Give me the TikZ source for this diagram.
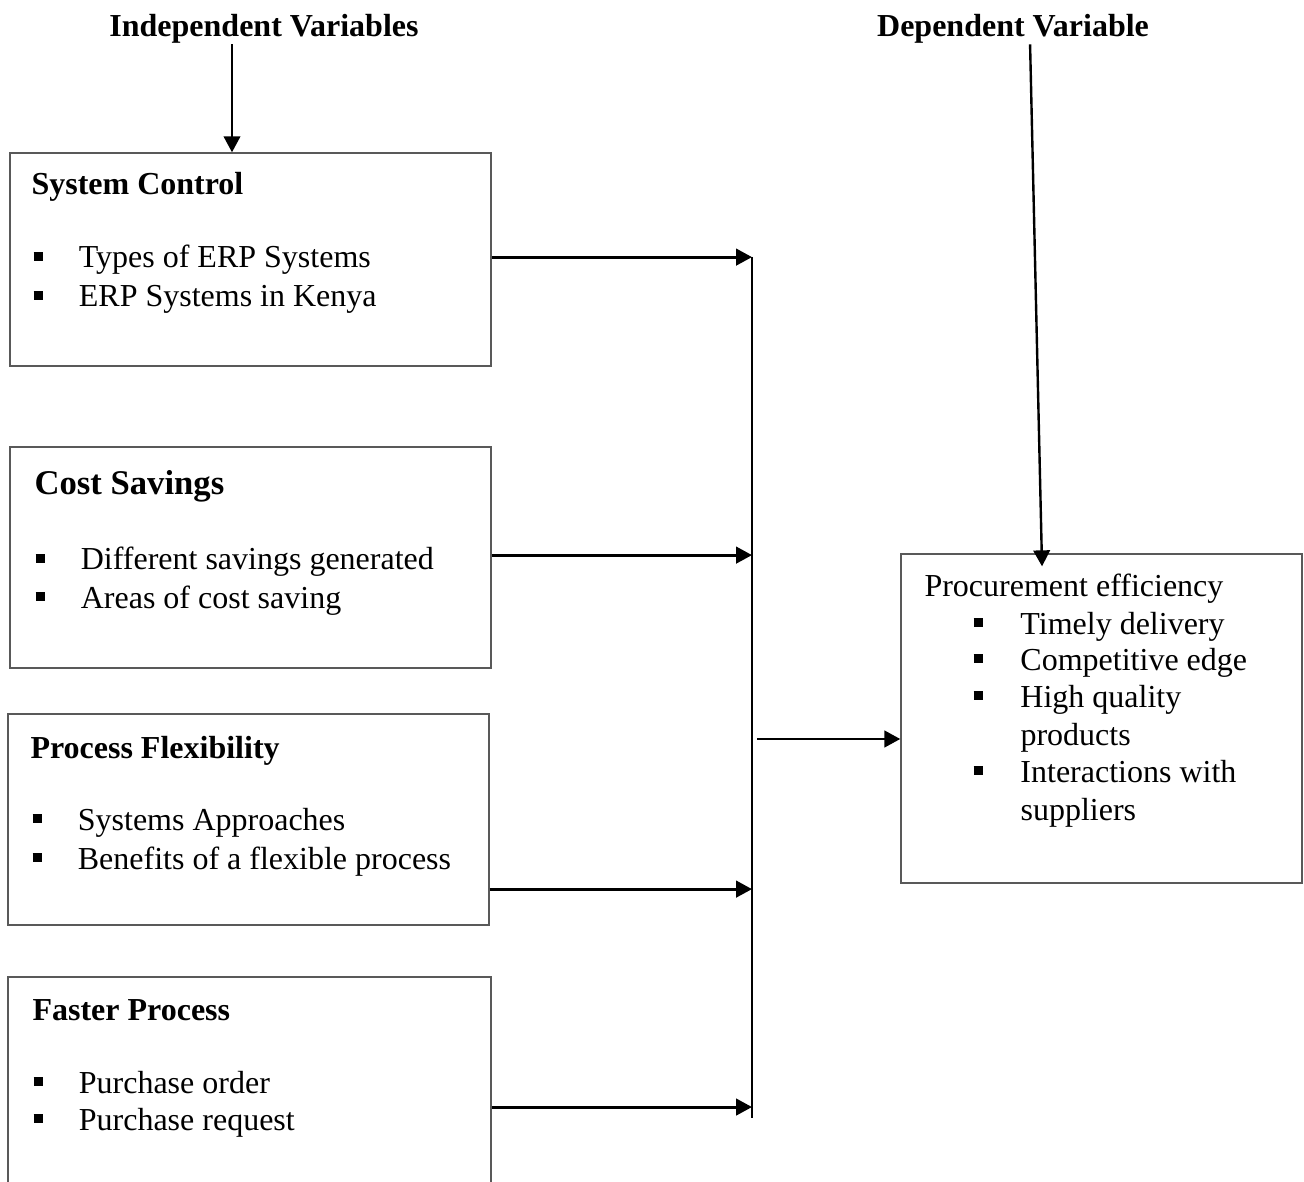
\documentclass[tikz,border=0pt]{standalone}
\usepackage{fontspec}
\setmainfont{Liberation Serif}
\usetikzlibrary{arrows.meta,positioning,calc}
\newcommand{\sqbullet}{\rule[2.6pt]{3.7pt}{3.5pt}}
\newcommand{\blt}[2][17pt]{\makebox[#1][l]{\sqbullet}#2}
\tikzset{
  varbox/.style={draw=black!65, line width=0.5pt, inner sep=0pt},
  vhead/.style={font=\bfseries\fontsize{12}{14}\selectfont, inner sep=0pt, anchor=base, yshift=-0.75pt},
  vtitle/.style={font=\bfseries\fontsize{12}{14}\selectfont, inner sep=0pt, anchor=base west, yshift=-0.75pt},
  vtext/.style={font=\fontsize{12}{14}\selectfont, inner sep=0pt, anchor=base west, yshift=-0.75pt},
  harrow/.style={-{Triangle[length=6pt,width=6.2pt]}, line width=1.1pt},
  varrow/.style={-{Triangle[length=6pt,width=6.2pt]}, line width=0.9pt},
  busline/.style={line width=0.8pt},
}
\begin{document}
\begin{tikzpicture}[x=0.375pt,y=-0.375pt]
\useasboundingbox (0,0) rectangle (1304,1182);
% headings
\node[vhead] (indep) at (264,35) {Independent Variables};
\node[vhead] (dep) at (1013,35) {Dependent Variable};
% independent variable boxes
\node[varbox, minimum width=180.4pt, minimum height=79.9pt] (sysc) at (250.5,259.5) {};
\node[varbox, minimum width=180.4pt, minimum height=82.9pt] (cost) at (250.5,557.5) {};
\node[varbox, minimum width=180.4pt, minimum height=79.1pt] (flex) at (248.5,819.5) {};
\node[varbox, minimum width=181.1pt, minimum height=79.1pt] (fast) at (249.5,1082.5) {};
% dependent variable box
\node[varbox, minimum width=150.4pt, minimum height=123.4pt] (proc) at (1101.5,718.5) {};
% box texts
\node[vtitle] (sysct) at (31,193) {System Control};
\node[vtext] (sysc1) at (33,266) {\blt{Types of ERP Systems}};
\node[vtext] (sysc2) at (33,305) {\blt{ERP Systems in Kenya}};
\node[vtitle, font=\bfseries\fontsize{13}{15}\selectfont] (costt) at (34,493) {Cost Savings};
\node[vtext] (cost1) at (35,568) {\blt{Different savings generated}};
\node[vtext] (cost2) at (35,606) {\blt{Areas of cost saving}};
\node[vtitle] (flext) at (30,756) {Process Flexibility};
\node[vtext] (flex1) at (32,828) {\blt{Systems Approaches}};
\node[vtext] (flex2) at (32,867) {\blt{Benefits of a flexible process}};
\node[vtitle] (fastt) at (32,1018) {Faster Process};
\node[vtext] (fast1) at (33,1091) {\blt{Purchase order}};
\node[vtext] (fast2) at (33,1128) {\blt{Purchase request}};
\node[vtext] (proct) at (924,595) {Procurement efficiency};
\node[vtext] (proc1) at (973,632) {\blt[17.6pt]{Timely delivery}};
\node[vtext] (proc2) at (973,668) {\blt[17.6pt]{Competitive edge}};
\node[vtext] (proc3) at (973,705) {\blt[17.6pt]{High quality}};
\node[vtext] (proc3b) at (1020,743) {products};
\node[vtext] (proc4) at (973,780) {\blt[17.6pt]{Interactions with}};
\node[vtext] (proc4b) at (1020,818) {suppliers};
% heading arrows
\draw[varrow] ([xshift=-12pt]indep.south) -- ([xshift=-12pt]indep.south |- sysc.north);
\draw[varrow] ([xshift=6.4pt]dep.south) -- ([xshift=-22.3pt,yshift=-4.9pt]proc.north);
% bus line and connectors
\coordinate (bustop) at (752,257);
\coordinate (busbot) at (752,1118);
\coordinate (busout) at (757,739);
\draw[busline] (bustop) -- (busbot);
\draw[harrow] ([yshift=0.9pt]sysc.east) -- ([yshift=0.9pt]sysc.east -| bustop);
\draw[harrow] ([yshift=0.9pt]cost.east) -- ([yshift=0.9pt]cost.east -| bustop);
\draw[harrow] ([yshift=-26.1pt]flex.east) -- ([yshift=-26.1pt]flex.east -| bustop);
\draw[harrow] ([yshift=-9.2pt]fast.east) -- ([yshift=-9.2pt]fast.east -| bustop);
\draw[harrow] (busout) -- (busout -| proc.west);
\end{tikzpicture}
\end{document}
